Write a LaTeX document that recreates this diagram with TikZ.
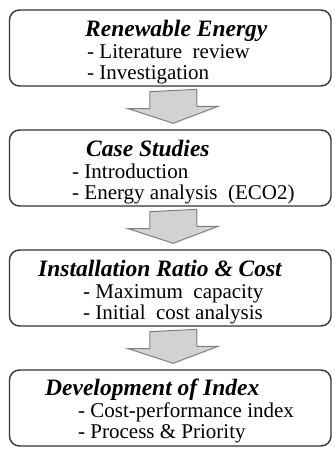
\documentclass[tikz,border=0pt]{standalone}
\usepackage{fontspec}
\setmainfont{Liberation Serif}
\usepackage{tikz}

\tikzset{
  stagebox/.style={draw=black!80, line width=1.4pt, rounded corners=10pt,
    minimum width=321.5pt, minimum height=76pt, inner sep=0pt},
  stagetitle/.style={anchor=base west, inner sep=0pt,
    font=\fontsize{23.5}{26}\selectfont\bfseries\itshape},
  stageitem/.style={anchor=base west, inner sep=0pt,
    font=\fontsize{21}{24}\selectfont},
  flowarrow/.style={draw=gray, fill=gray!35, line width=1pt, line join=miter}
}

\begin{document}
\begin{tikzpicture}[x=1pt,y=-1pt]
	\useasboundingbox (0,0) rectangle (335,450);
	% 绘制方框
	\node[stagebox] (ren) at (170.25,48) {};
	\node[stagebox] (case) at (170.25,168) {};
	\node[stagebox] (ratio) at (170.25,288) {};
	\node[stagebox] (index) at (170.25,408) {};
	% 方框标题
	\node[stagetitle] (renT) at (85,36) {Renewable Energy};
	\node[stagetitle] (caseT) at (86,156) {Case Studies};
	\node[stagetitle] (ratioT) at (38,276) {Installation Ratio \& Cost};
	\node[stagetitle] (indexT) at (45,395) {Development of Index};
	% 方框内容
	\node[stageitem] (renA) at (87,58) {- Literature\ \ review};
	\node[stageitem] (renB) at (87,79) {- Investigation};
	\node[stageitem] (caseA) at (72,178) {- Introduction};
	\node[stageitem] (caseB) at (72,199) {- Energy analysis\ \ (ECO2)};
	\node[stageitem] (ratioA) at (83,298) {- Maximum\ \ capacity};
	\node[stageitem] (ratioB) at (83,319) {- Initial\ \ cost analysis};
	\node[stageitem] (indexA) at (78,417) {- Cost-performance index};
	\node[stageitem] (indexB) at (78,438) {- Process \& Priority};
	% 绘制箭头
	\foreach \a/\b in {ren/case, case/ratio, ratio/index}
		\draw[flowarrow] ([shift={(-20.5,5)}]\a.south) -- ++(0,17) -- ++(-21.5,0)
			-- ([shift={(3,-6)}]\b.north) -- ++(45,-17) -- ++(-21.5,0)
			-- ++(0,-17) -- cycle;
\end{tikzpicture}
\end{document}
